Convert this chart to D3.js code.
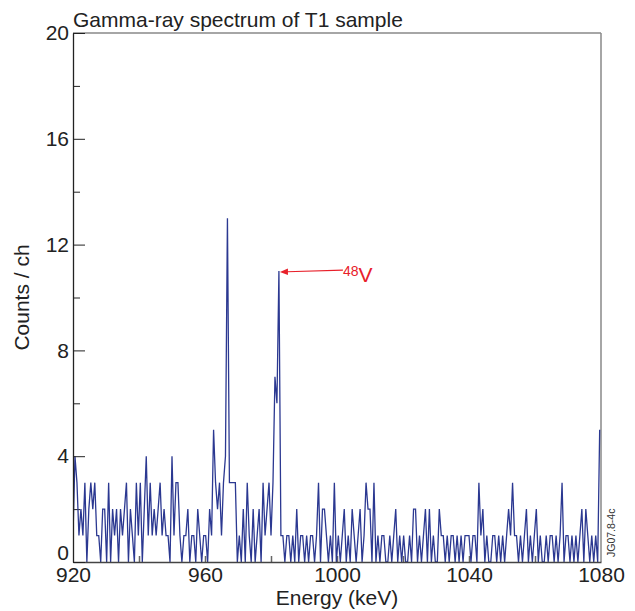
<!DOCTYPE html>
<html lang="en">
<head>
    <meta charset="UTF-8">
    <title>Gamma-ray spectrum of T1 sample</title>
    <script src="https://d3js.org/d3.v7.min.js"></script>
    <style>
        body {
            margin: 0;
            padding: 0;
            background: #ffffff;
            font-family: Arial, 'Liberation Sans', sans-serif;
        }
        .tick text {
            font-family: Arial, 'Liberation Sans', sans-serif;
            font-size: 21px;
            fill: #222;
        }
        .spectrum {
            fill: none;
            stroke: #2b3891;
            stroke-width: 1.3px;
            stroke-linejoin: miter;
        }
    </style>
</head>
<body>
    <div id="chart"></div>
    <script>
        // channel counts, 0.6 keV per channel starting at 920 keV
        const startEnergy = 920;
        const channelWidth = 0.6;
        const counts = [
            1, 4, 3, 1, 2, 1, 3, 0, 2, 3, 2, 3, 1, 1, 0, 2, 2, 0, 3, 0,
            2, 1, 2, 0, 2, 1, 2, 3, 0, 2, 1, 0, 3, 1, 3, 0, 2, 4, 1, 3,
            1, 2, 1, 2, 3, 1, 2, 1, 1, 0, 4, 1, 3, 3, 1, 0, 1, 1, 2, 0,
            1, 1, 0, 2, 1, 0, 1, 1, 0, 2, 1, 5, 3, 2, 3, 1, 3, 4, 13, 3,
            3, 3, 3, 0, 1, 0, 2, 0, 3, 1, 0, 2, 0, 1, 2, 0, 3, 1, 2, 3,
            1, 3, 7, 6, 11, 1, 1, 0, 1, 1, 0, 1, 0, 2, 0, 1, 1, 0, 1, 0,
            1, 1, 0, 1, 3, 0, 2, 2, 1, 0, 1, 0, 3, 0, 1, 0, 1, 2, 0, 1,
            0, 2, 1, 0, 1, 2, 0, 1, 3, 2, 2, 0, 3, 0, 1, 0, 1, 1, 0, 0,
            1, 0, 1, 2, 0, 1, 0, 1, 0, 0, 1, 0, 2, 2, 0, 1, 0, 1, 2, 0,
            2, 0, 1, 0, 0, 2, 1, 1, 0, 1, 0, 1, 1, 0, 1, 0, 1, 0, 1, 1,
            1, 0, 1, 1, 0, 3, 1, 2, 0, 1, 0, 0, 1, 1, 0, 1, 0, 1, 0, 1,
            2, 1, 3, 1, 1, 0, 1, 0, 1, 2, 0, 1, 0, 1, 2, 0, 1, 0, 0, 1,
            0, 1, 1, 0, 1, 0, 1, 3, 0, 1, 1, 0, 1, 0, 1, 0, 1, 2, 0, 2,
            1, 0, 1, 0, 1, 0, 5
        ];
        const xTicks = [920, 960, 1000, 1040, 1080];
        const xMinorTicks = [940, 960, 980, 1000, 1020, 1040, 1060];
        const yTicks = [0, 4, 8, 12, 16, 20];
        const yMinorTicks = [2, 6, 10, 14, 18];
        const peakChannel = 104; // the 48V line

        const data = counts.map((c, i) => ({ energy: startEnergy + i * channelWidth, count: c }));

        const W = 635, H = 611;
        const margin = { top: 33, right: 34, bottom: 49, left: 73 };
        const width = W - margin.left - margin.right;
        const height = H - margin.top - margin.bottom;

        const root = d3.select("#chart").append("svg")
            .attr("width", W)
            .attr("height", H);

        const svg = root.append("g")
            .attr("transform", `translate(${margin.left},${margin.top})`);

        const x = d3.scaleLinear().domain([920, 1080]).range([0, width]);
        const y = d3.scaleLinear().domain([0, 20]).range([height, 0]);

        svg.append("defs").append("clipPath").attr("id", "clip")
            .append("rect").attr("width", width).attr("height", height);

        // frame (top and right are lighter)
        svg.append("line").attr("x1", 0).attr("x2", width).attr("y1", 0).attr("y2", 0)
            .attr("stroke", "#888").attr("stroke-width", 1.5);
        svg.append("line").attr("x1", width).attr("x2", width).attr("y1", 0).attr("y2", height)
            .attr("stroke", "#888").attr("stroke-width", 1.5);

        // minor x ticks
        svg.append("g")
            .attr("transform", `translate(0,${height})`)
            .call(d3.axisBottom(x).tickValues(xMinorTicks).tickSize(-6).tickFormat(""))
            .call(g => g.select(".domain").remove())
            .call(g => g.selectAll(".tick line").attr("stroke", "#666").attr("stroke-width", 1.5));

        // minor y ticks
        svg.append("g")
            .call(d3.axisLeft(y).tickValues(yMinorTicks).tickSize(-7).tickFormat(""))
            .call(g => g.select(".domain").remove())
            .call(g => g.selectAll(".tick line").attr("stroke", "#222"));

        // spectrum
        svg.append("path")
            .datum(data)
            .attr("class", "spectrum")
            .attr("clip-path", "url(#clip)")
            .attr("d", d3.line().x(d => x(d.energy)).y(d => y(d.count)));

        // x axis
        svg.append("g")
            .attr("transform", `translate(0,${height})`)
            .call(d3.axisBottom(x).tickValues(xTicks).tickFormat(d3.format("d"))
                .tickSize(0).tickSizeOuter(0).tickPadding(5))
            .call(g => g.select(".domain").attr("stroke", "#444").attr("stroke-width", 1.5));

        // y axis
        svg.append("g")
            .call(d3.axisLeft(y).tickValues(yTicks).tickSize(-12).tickSizeOuter(0).tickPadding(4))
            .call(g => g.select(".domain").attr("stroke", "#222").attr("stroke-width", 1.3))
            .call(g => g.selectAll(".tick line").attr("stroke", "#222"))
            .call(g => g.selectAll(".tick text").filter(d => d === 0).attr("dy", "-0.1em"));

        // titles
        root.append("text")
            .attr("x", margin.left)
            .attr("y", 27)
            .attr("font-size", 21)
            .attr("fill", "#222")
            .text("Gamma-ray spectrum of T1 sample");

        root.append("text")
            .attr("x", margin.left + width / 2)
            .attr("y", 605)
            .attr("text-anchor", "middle")
            .attr("font-size", 21)
            .attr("fill", "#222")
            .text("Energy (keV)");

        root.append("text")
            .attr("transform", `translate(29,${margin.top + height / 2}) rotate(-90)`)
            .attr("text-anchor", "middle")
            .attr("font-size", 21)
            .attr("fill", "#222")
            .text("Counts / ch");

        root.append("text")
            .attr("transform", `translate(615,557) rotate(-90)`)
            .attr("font-size", 10.5)
            .attr("fill", "#333")
            .text("JG07.8-4c");

        // 48V annotation
        const red = "#e8202a";
        const tipX = x(data[peakChannel].energy) + 1;
        const tipY = y(data[peakChannel].count) + 1;
        svg.append("line")
            .attr("x1", tipX + 7).attr("y1", tipY - 0.3)
            .attr("x2", tipX + 63).attr("y2", tipY - 2)
            .attr("stroke", red).attr("stroke-width", 1.2);
        svg.append("path")
            .attr("d", `M${tipX},${tipY} L${tipX + 8},${tipY - 3.5} L${tipX + 8},${tipY + 3} Z`)
            .attr("fill", red);
        const label = svg.append("text")
            .attr("x", tipX + 63)
            .attr("y", tipY + 10)
            .attr("fill", red);
        label.append("tspan").attr("font-size", 14).attr("dy", -6).text("48");
        label.append("tspan").attr("font-size", 21).attr("dy", 6).text("V");
    </script>
</body>
</html>
